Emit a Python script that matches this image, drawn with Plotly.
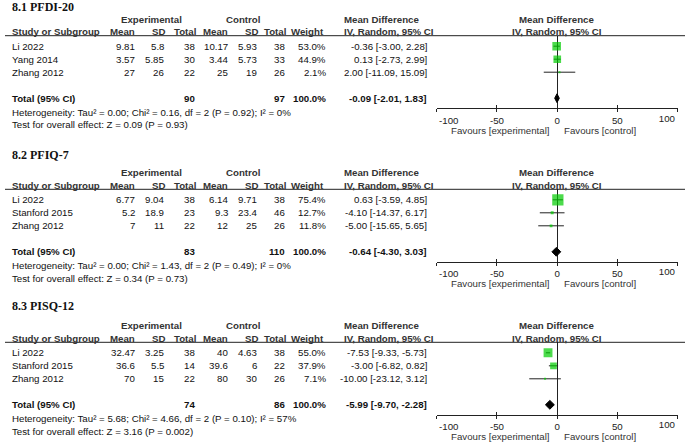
import plotly.graph_objects as go

# ---- 8.1 PFDI-20 ----
pfdi_studies = ["Li 2022", "Yang 2014", "Zhang 2012"]
pfdi_exp_mean = [9.81, 3.57, 27]
pfdi_exp_sd = [5.8, 5.85, 26]
pfdi_exp_n = [38, 30, 22]
pfdi_ctl_mean = [10.17, 3.44, 25]
pfdi_ctl_sd = [5.93, 5.73, 19]
pfdi_ctl_n = [38, 33, 26]
pfdi_weight = [53.0, 44.9, 2.1]
pfdi_md = [-0.36, 0.13, 2.00]
pfdi_lo = [-3.00, -2.73, -11.09]
pfdi_hi = [2.28, 2.99, 15.09]
pfdi_total = [90, 97, -0.09, -2.01, 1.83]
pfdi_het = "Heterogeneity: Tau² = 0.00; Chi² = 0.16, df = 2 (P = 0.92); I² = 0%"
pfdi_test = "Test for overall effect: Z = 0.09 (P = 0.93)"

# ---- 8.2 PFIQ-7 ----
pfiq_studies = ["Li 2022", "Stanford 2015", "Zhang 2012"]
pfiq_exp_mean = [6.77, 5.2, 7]
pfiq_exp_sd = [9.04, 18.9, 11]
pfiq_exp_n = [38, 23, 22]
pfiq_ctl_mean = [6.14, 9.3, 12]
pfiq_ctl_sd = [9.71, 23.4, 25]
pfiq_ctl_n = [38, 46, 26]
pfiq_weight = [75.4, 12.7, 11.8]
pfiq_md = [0.63, -4.10, -5.00]
pfiq_lo = [-3.59, -14.37, -15.65]
pfiq_hi = [4.85, 6.17, 5.65]
pfiq_total = [83, 110, -0.64, -4.30, 3.03]
pfiq_het = "Heterogeneity: Tau² = 0.00; Chi² = 1.43, df = 2 (P = 0.49); I² = 0%"
pfiq_test = "Test for overall effect: Z = 0.34 (P = 0.73)"

# ---- 8.3 PISQ-12 ----
pisq_studies = ["Li 2022", "Stanford 2015", "Zhang 2012"]
pisq_exp_mean = [32.47, 36.6, 70]
pisq_exp_sd = [3.25, 5.5, 15]
pisq_exp_n = [38, 14, 22]
pisq_ctl_mean = [40, 39.6, 80]
pisq_ctl_sd = [4.63, 6, 30]
pisq_ctl_n = [38, 22, 26]
pisq_weight = [55.0, 37.9, 7.1]
pisq_md = [-7.53, -3.00, -10.00]
pisq_lo = [-9.33, -6.82, -23.12]
pisq_hi = [-5.73, 0.82, 3.12]
pisq_total = [74, 86, -5.99, -9.70, -2.28]
pisq_het = "Heterogeneity: Tau² = 5.68; Chi² = 4.66, df = 2 (P = 0.10); I² = 57%"
pisq_test = "Test for overall effect: Z = 3.16 (P = 0.002)"

titles = ["8.1 PFDI-20", "8.2 PFIQ-7", "8.3 PISQ-12"]
tick_vals = [-100, -50, 0, 50, 100]
tick_text = ["-100", "-50", "0", "50", "100"]

W, H = 685, 443
FONT = "Liberation Sans, Arial, sans-serif"
FS = 9.7
GREEN = "#00cc00"
NB = "\u00a0"

panels = [
    (pfdi_studies, pfdi_exp_mean, pfdi_exp_sd, pfdi_exp_n, pfdi_ctl_mean, pfdi_ctl_sd,
     pfdi_ctl_n, pfdi_weight, pfdi_md, pfdi_lo, pfdi_hi, pfdi_total, pfdi_het, pfdi_test),
    (pfiq_studies, pfiq_exp_mean, pfiq_exp_sd, pfiq_exp_n, pfiq_ctl_mean, pfiq_ctl_sd,
     pfiq_ctl_n, pfiq_weight, pfiq_md, pfiq_lo, pfiq_hi, pfiq_total, pfiq_het, pfiq_test),
    (pisq_studies, pisq_exp_mean, pisq_exp_sd, pisq_exp_n, pisq_ctl_mean, pisq_ctl_sd,
     pisq_ctl_n, pisq_weight, pisq_md, pisq_lo, pisq_hi, pisq_total, pisq_het, pisq_test),
]

# pixel layout of each panel: header rule (top of plot) and axis line (bottom)
underline_px = [35.7, 189.3, 342.3]
title_px = [7, 155, 305.7]
PITCH = 13.0
FIRST = 10.5
AXIS_OFF = 72.3
TOTAL_ROW = 4


def px_x(x):
    return x / W


def px_y(y):
    return 1 - y / H


x_dom = [px_x(436.7), px_x(677.5)]


def fmt(v):
    return f"{v:g}"


fig = go.Figure()
annotations = []
shapes = []


def text(s, x, ypx, anchor="left", bold=False, size=FS, color="#111", family=FONT):
    if bold:
        s = "<b>" + s + "</b>"
    annotations.append(dict(
        text=s, x=px_x(x), xref="paper", y=px_y(ypx), yref="paper",
        xanchor=anchor, yanchor="middle", showarrow=False,
        font=dict(family=family, size=size, color=color),
    ))


tickfont = dict(family=FONT, size=FS, color="#222")

for k, p in enumerate(panels):
    (studies, e_mean, e_sd, e_n, c_mean, c_sd, c_n,
     weight, md, lo, hi, total, het, test) = p
    n = k + 1
    xa = "xaxis" if n == 1 else f"xaxis{n}"
    ya = "yaxis" if n == 1 else f"yaxis{n}"
    xr = "x" if n == 1 else f"x{n}"
    yr = "y" if n == 1 else f"y{n}"
    # overlay axis on the same line: upper tick halves and the right end label
    xa_up = f"xaxis{n + 3}"
    xr_up = f"x{n + 3}"

    top_px = underline_px[k]
    bot_px = top_px + AXIS_OFF
    top = -FIRST / PITCH
    bottom = (AXIS_OFF - FIRST) / PITCH

    def row_px(r):
        return top_px + FIRST + PITCH * r

    rows = list(range(len(studies)))

    # study squares with CI whiskers
    fig.add_trace(go.Scatter(
        x=md, y=rows, xaxis=xr, yaxis=yr, mode="markers",
        marker=dict(symbol="square", color=GREEN,
                    size=[max(2, 0.44 * w ** 0.75) for w in weight],
                    line=dict(width=0)),
        error_x=dict(type="data", symmetric=False,
                     array=[h - m for h, m in zip(hi, md)],
                     arrayminus=[m - l for m, l in zip(md, lo)],
                     color="#222", thickness=1, width=0),
        showlegend=False, hoverinfo="skip",
    ))

    # pooled diamond (on the overlay axis, same range, so that axis is drawn)
    t_md, t_lo, t_hi = total[2], total[3], total[4]
    dh = 0.34
    fig.add_trace(go.Scatter(
        x=[t_lo, t_md, t_hi, t_md, t_lo],
        y=[TOTAL_ROW, TOTAL_ROW - dh, TOTAL_ROW, TOTAL_ROW + dh, TOTAL_ROW],
        xaxis=xr_up, yaxis=yr, mode="lines", fill="toself",
        fillcolor="black", line=dict(color="black", width=1),
        showlegend=False, hoverinfo="skip",
    ))

    # main axis: line, zero line, lower tick halves; left end label nudged inward
    fig.layout[xa] = dict(
        domain=x_dom, anchor=yr, range=[-100, 100],
        tickvals=tick_vals, ticktext=[NB * 9 + tick_text[0], *tick_text[1:-1], ""],
        ticks="outside", ticklen=3, tickcolor="#222",
        showline=True, linecolor="#222", linewidth=1,
        zeroline=True, zerolinecolor="#222", zerolinewidth=1,
        showgrid=False, tickfont=tickfont, automargin=False,
    )
    fig.layout[xa_up] = dict(
        domain=x_dom, anchor=yr, overlaying=xr, side="bottom",
        range=[-100, 100], tickvals=tick_vals,
        ticktext=["", "", "", "", tick_text[-1]],
        ticks="inside", ticklen=3, tickcolor="#222",
        ticklabelposition="outside left", ticklabelstandoff=3, ticklabelshift=-2,
        showline=False, showgrid=False, zeroline=False,
        tickfont=tickfont, automargin=False,
    )
    fig.layout[ya] = dict(
        domain=[px_y(bot_px), px_y(top_px)], anchor=xr,
        range=[bottom, top], showgrid=False, zeroline=False,
        showticklabels=False, showline=False, ticks="", automargin=False,
    )

    # header rule
    shapes.append(dict(type="line", xref="paper", yref="paper",
                       x0=px_x(5), x1=1, y0=px_y(top_px), y1=px_y(top_px),
                       line=dict(color="#222", width=1)))

    # titles and headers
    text(titles[k], 10, title_px[k], bold=True, size=12, color="#111",
         family="Liberation Serif, Times New Roman, serif")
    h1 = top_px - 16.5
    h2 = top_px - 3.8
    text("Experimental", 151.7, h1, anchor="center", bold=True, color="#333")
    text("Control", 243, h1, anchor="center", bold=True, color="#333")
    text("Mean Difference", 341.7, h1, bold=True, color="#333")
    text("Mean Difference", 556.5, h1, anchor="center", bold=True, color="#333")
    text("Study or Subgroup", 10, h2, bold=True, color="#333")
    for lab, xx in [("Mean", 137.3), ("SD", 166.5), ("Total", 198),
                    ("Mean", 229.5), ("SD", 260), ("Total", 287.5), ("Weight", 326)]:
        text(lab, xx, h2, anchor="right", bold=True, color="#333")
    text("IV, Random, 95% CI", 341.7, h2, bold=True, color="#333")
    text("IV, Random, 95% CI", 557, h2, anchor="center", bold=True, color="#333")

    # study rows
    for i, s in enumerate(studies):
        y = row_px(i)
        text(s, 10, y)
        text(fmt(e_mean[i]), 137.3, y, anchor="right")
        text(fmt(e_sd[i]), 165.7, y, anchor="right")
        text(fmt(e_n[i]), 197, y, anchor="right")
        text(fmt(c_mean[i]), 230, y, anchor="right")
        text(fmt(c_sd[i]), 258.5, y, anchor="right")
        text(fmt(c_n[i]), 287, y, anchor="right")
        text(f"{weight[i]:.1f}%", 328, y, anchor="right")
        text(f"{md[i]:.2f} [{lo[i]:.2f}, {hi[i]:.2f}]", 428.5, y, anchor="right")

    # total row
    tr = row_px(TOTAL_ROW)
    text("Total (95% CI)", 10, tr, bold=True)
    text(fmt(total[0]), 197, tr, anchor="right", bold=True)
    text(fmt(total[1]), 287, tr, anchor="right", bold=True)
    text("100.0%", 328, tr, anchor="right", bold=True)
    text(f"{t_md:.2f} [{t_lo:.2f}, {t_hi:.2f}]", 428.5, tr, anchor="right", bold=True)
    text(het, 10, top_px + 76.3)
    text(test, 10, top_px + 89)

    # favours labels
    fav = top_px + 94.5
    text("Favours [experimental]", 552, fav, anchor="right", color="#333")
    text("Favours [control]", 561.5, fav, color="#333")

fig.update_layout(
    width=W, height=H, autosize=False,
    margin=dict(l=0, r=0, t=0, b=0, pad=0, autoexpand=False),
    paper_bgcolor="white", plot_bgcolor="white",
    annotations=annotations, shapes=shapes,
    showlegend=False,
)

# drop the browser's default 8px body margin so the figure sits at the window corner
fig.write_html("out.html", config={"displayModeBar": False},
               post_script="document.body.style.margin = '0';")
